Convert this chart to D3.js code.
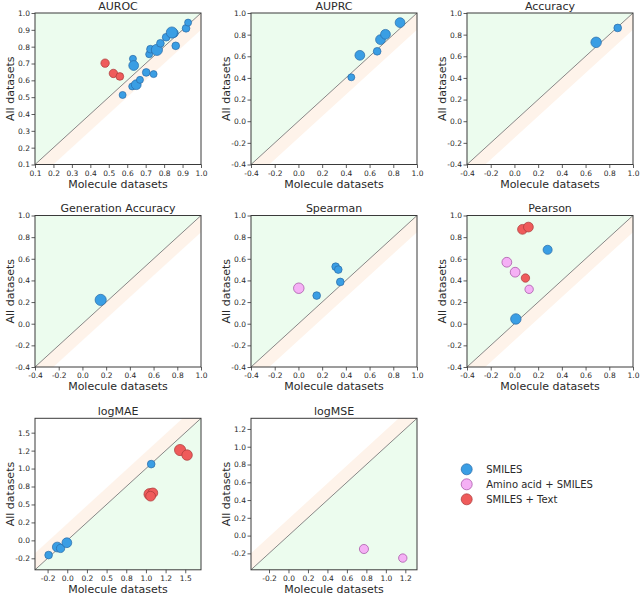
<!DOCTYPE html>
<html>
<head>
<meta charset="utf-8">
<script src="https://cdn.jsdelivr.net/npm/d3@7"></script>
<style>
body{margin:0;background:#fff;}
svg{font-family:"DejaVu Sans",sans-serif;}
.tick text{fill:#2a2a2a;}
</style>
</head>
<body>
<div id="chart"></div>
<script>
// groups / legend
const groups = ['SMILES', 'Amino acid + SMILES', 'SMILES + Text'];
const groupFill = ['#3a9ee4', '#f5b0f5', '#ef5b5b'];
const groupEdge = ['#2a6aa6', '#a04ca0', '#a83a3a'];

// tick values shared by x and y
const aurocTicks = [0.1, 0.2, 0.3, 0.4, 0.5, 0.6, 0.7, 0.8, 0.9, 1.0];
const unitTicks = [-0.4, -0.2, 0.0, 0.2, 0.4, 0.6, 0.8, 1.0];
const maeTicks = [-0.25, 0, 0.25, 0.5, 0.75, 1.0, 1.25, 1.5];
const maeTickLabels = ['-0.2', '0.0', '0.2', '0.5', '0.8', '1.0', '1.2', '1.5'];
const mseTicks = [-0.2, 0.0, 0.2, 0.4, 0.6, 0.8, 1.0, 1.2];

// points: [molecule datasets, all datasets, group index, weight]
const auroc = [
  [0.575, 0.513, 0, 1], [0.631, 0.728, 0, 1], [0.635, 0.688, 0, 3],
  [0.627, 0.564, 0, 1], [0.649, 0.574, 0, 3], [0.669, 0.603, 0, 1],
  [0.703, 0.647, 0, 1.5], [0.743, 0.637, 0, 1], [0.719, 0.755, 0, 1],
  [0.726, 0.785, 0, 1.5], [0.761, 0.781, 0, 4], [0.780, 0.820, 0, 1.5],
  [0.811, 0.856, 0, 1.5], [0.854, 0.880, 0, 2], [0.842, 0.884, 0, 4],
  [0.863, 0.805, 0, 1.5], [0.919, 0.909, 0, 1.5], [0.930, 0.943, 0, 1],
  [0.480, 0.702, 2, 2], [0.525, 0.641, 2, 2], [0.560, 0.623, 2, 1.5]
];
const auprc = [
  [0.446, 0.406, 0, 1], [0.518, 0.609, 0, 3], [0.664, 0.646, 0, 1.5],
  [0.692, 0.754, 0, 3], [0.734, 0.803, 0, 3], [0.857, 0.911, 0, 3]
];
const accuracy = [
  [0.689, 0.729, 0, 3.5], [0.871, 0.862, 0, 1.5]
];
const genAccuracy = [
  [0.154, 0.220, 0, 4]
];
const spearman = [
  [0.154, 0.260, 0, 1.5], [0.314, 0.527, 0, 1.5], [0.336, 0.500, 0, 1.5],
  [0.353, 0.386, 0, 1.5], [0.003, 0.328, 1, 3.5]
];
const pearson = [
  [0.280, 0.683, 0, 2.5], [0.012, 0.044, 0, 3.5],
  [-0.064, 0.568, 1, 3], [0.006, 0.476, 1, 3], [0.124, 0.318, 1, 2],
  [0.068, 0.872, 2, 3], [0.118, 0.893, 2, 3], [0.093, 0.422, 2, 2]
];
const logMAE = [
  [-0.237, -0.205, 0, 1.5], [-0.127, -0.093, 0, 3], [-0.085, -0.112, 0, 2],
  [-0.005, -0.033, 0, 3], [1.067, 1.062, 0, 1.5],
  [1.046, 0.643, 2, 4], [1.088, 0.661, 2, 3], [1.059, 0.615, 2, 3],
  [1.434, 1.258, 2, 4], [1.523, 1.188, 2, 3.5]
];
const logMSE = [
  [0.775, -0.151, 1, 2.5], [1.174, -0.253, 1, 2]
];

const panels = [
  {title: 'AUROC', data: auroc, domain: [0.1, 1.0], ticks: aurocTicks, higher: true},
  {title: 'AUPRC', data: auprc, domain: [-0.4, 1.0], ticks: unitTicks, higher: true},
  {title: 'Accuracy', data: accuracy, domain: [-0.4, 1.0], ticks: unitTicks, higher: true},
  {title: 'Generation Accuracy', data: genAccuracy, domain: [-0.4, 1.0], ticks: unitTicks, higher: true},
  {title: 'Spearman', data: spearman, domain: [-0.4, 1.0], ticks: unitTicks, higher: true},
  {title: 'Pearson', data: pearson, domain: [-0.4, 1.0], ticks: unitTicks, higher: true},
  {title: 'logMAE', data: logMAE, domain: [-0.41, 1.70], ticks: maeTicks, labels: maeTickLabels, higher: false},
  {title: 'logMSE', data: logMSE, domain: [-0.385, 1.32], ticks: mseTicks, higher: false}
];

const svg_width = 640, svg_height = 595;
const colX = [35, 251, 467];
const rowY = [13, 215.5, 418.3];
const pw = 166, ph = 151.5;

const svg = d3.select('#chart').append('svg')
  .attr('width', svg_width).attr('height', svg_height);

const fmt = d3.formatLocale({decimal: '.', thousands: ',', grouping: [3], currency: ['', ''], minus: '-'}).format('.1f');
const rScale = d3.scaleLinear().domain([1, 4]).range([3.5, 5.6]);

function drawPanel(p, i){
  const g = svg.append('g')
    .attr('transform', `translate(${colX[i % 3]},${rowY[Math.floor(i / 3)]})`);
  const x = d3.scaleLinear().domain(p.domain).range([0, pw]);
  const y = d3.scaleLinear().domain(p.domain).range([ph, 0]);
  const [lo, hi] = p.domain;
  const w = (hi - lo) * 0.11;
  const line = d3.line().x(d => x(d[0])).y(d => y(d[1]));

  //shaded regions
  const green = p.higher ? [[lo, lo], [lo, hi], [hi, hi]] : [[lo, lo], [hi, lo], [hi, hi]];
  const band = p.higher ? [[lo, lo], [hi, hi], [hi, hi - w], [lo + w, lo]]
                        : [[lo, lo], [hi, hi], [hi - w, hi], [lo, lo + w]];
  g.append('path').attr('d', line(green) + 'Z').attr('fill', '#ecfcee');
  g.append('path').attr('d', line(band) + 'Z').attr('fill', '#fef3ea');
  g.append('path').attr('d', line([[lo, lo], [hi, hi]]))
    .attr('stroke', '#7a7a7a').attr('stroke-width', 0.9).attr('fill', 'none');

  //points
  g.selectAll('.pt').data(p.data).enter().append('circle').attr('class', 'pt')
    .attr('cx', d => x(d[0])).attr('cy', d => y(d[1]))
    .attr('r', d => rScale(d[3]))
    .attr('fill', d => groupFill[d[2]])
    .attr('stroke', d => groupEdge[d[2]])
    .attr('stroke-width', 0.7);

  //axes
  const tf = (d, k) => p.labels ? p.labels[k] : fmt(d);
  const xAxis = d3.axisBottom(x).tickValues(p.ticks).tickFormat(tf).tickSize(3.5).tickPadding(2.5);
  const yAxis = d3.axisLeft(y).tickValues(p.ticks).tickFormat(tf).tickSize(3.5).tickPadding(1.5);
  const xg = g.append('g').attr('transform', `translate(0,${ph})`).call(xAxis);
  const yg = g.append('g').call(yAxis);
  [xg, yg].forEach(a => {
    a.select('.domain').remove();
    a.selectAll('line').attr('stroke', '#333').attr('stroke-width', 0.8);
    a.selectAll('text').style('font-size', '7.5px').style('font-family', '"DejaVu Sans",sans-serif');
  });

  //frame
  g.append('rect').attr('width', pw).attr('height', ph)
    .attr('fill', 'none').attr('stroke', '#3a3a3a').attr('stroke-width', 1);

  g.append('text').attr('x', pw / 2).attr('y', -3.5).attr('text-anchor', 'middle')
    .style('font-size', '11px').attr('fill', '#2a2a2a').text(p.title);
  g.append('text').attr('x', pw / 2).attr('y', ph + 23).attr('text-anchor', 'middle')
    .style('font-size', '11px').attr('fill', '#2a2a2a').text('Molecule datasets');
  g.append('text').attr('transform', `translate(-21,${ph / 2}) rotate(-90)`)
    .attr('text-anchor', 'middle')
    .style('font-size', '11px').attr('fill', '#2a2a2a').text('All datasets');
}

panels.forEach(drawPanel);

//legend
const legend = svg.append('g').attr('transform', 'translate(466.7,469.3)');
const items = legend.selectAll('g').data(groups).enter().append('g')
  .attr('transform', (d, k) => `translate(0,${k * 15})`);
items.append('circle').attr('r', 5.5)
  .attr('fill', (d, k) => groupFill[k]).attr('stroke', (d, k) => groupEdge[k]).attr('stroke-width', 0.7);
items.append('text').attr('x', 19.5).attr('dy', '0.35em')
  .style('font-size', '10px').attr('fill', '#2a2a2a').text(d => d);
</script>
</body>
</html>
